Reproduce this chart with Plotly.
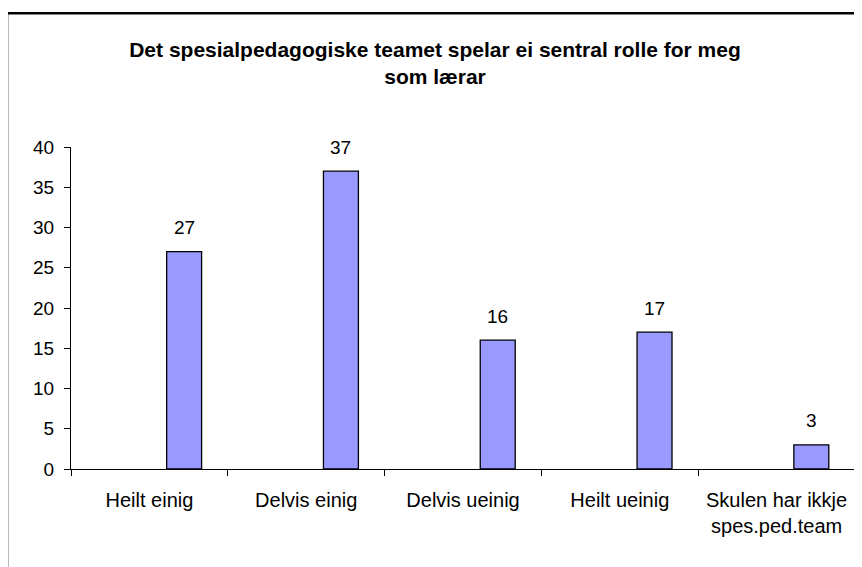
import plotly.graph_objects as go

categories = ["Heilt einig", "Delvis einig", "Delvis ueinig", "Heilt ueinig",
              "Skulen har ikkje<br>spes.ped.team"]
values = [27, 37, 16, 17, 3]
y_ticks = [0, 5, 10, 15, 20, 25, 30, 35, 40]
title_text = "Det spesialpedagogiske teamet spelar ei sentral rolle for meg<br>som lærar"

FONT = "Arial, 'Liberation Sans', sans-serif"
BAR_W = 0.223
BAR_OFF = 0.11
CAT_PX = 784 / 5

fig = go.Figure()
fig.add_trace(go.Bar(
    x=categories, y=values,
    width=BAR_W, offset=BAR_OFF,
    marker=dict(color="#9999FF", line=dict(color="#000000", width=1.3)),
    hoverinfo="skip",
))

for c, v in zip(categories, values):
    fig.add_annotation(
        x=c, y=v, xref="x", yref="y",
        text=str(v), showarrow=False,
        xshift=(BAR_OFF + BAR_W / 2) * CAT_PX, yshift=24,
        yanchor="middle", xanchor="center",
        font=dict(family=FONT, size=19, color="#000000"),
    )

fig.update_layout(
    width=862, height=567,
    margin=dict(l=63, r=15, t=139, b=106),
    paper_bgcolor="white", plot_bgcolor="white",
    showlegend=False,
    title=dict(
        text="<b>" + title_text + "</b>",
        x=427 / 862, xref="container", xanchor="center",
        y=1 - 49 / 567, yref="container", yanchor="middle",
        font=dict(family=FONT, size=21, color="#000000"),
    ),
    xaxis=dict(
        type="category",
        showline=True, linecolor="#000000", linewidth=1,
        ticks="outside", tickson="boundaries", ticklen=6, tickcolor="#000000",
        showgrid=False, zeroline=False,
        tickfont=dict(family=FONT, size=20, color="#000000"),
        ticklabelstandoff=13,
    ),
    yaxis=dict(
        range=[0, 40], tickvals=y_ticks,
        showline=True, linecolor="#000000", linewidth=1,
        ticks="outside", ticklen=6, tickcolor="#000000",
        showgrid=False, zeroline=False,
        tickfont=dict(family=FONT, size=19, color="#000000"),
        ticklabelstandoff=6,
    ),
    shapes=[dict(
        type="rect", xref="paper", yref="paper",
        x0=-0.0816, x1=1.2, y0=-0.6, y1=1.415,
        line=dict(color="#000000", width=2.5), fillcolor="rgba(0,0,0,0)",
        layer="above",
    )],
)

fig.write_html("out.html")
